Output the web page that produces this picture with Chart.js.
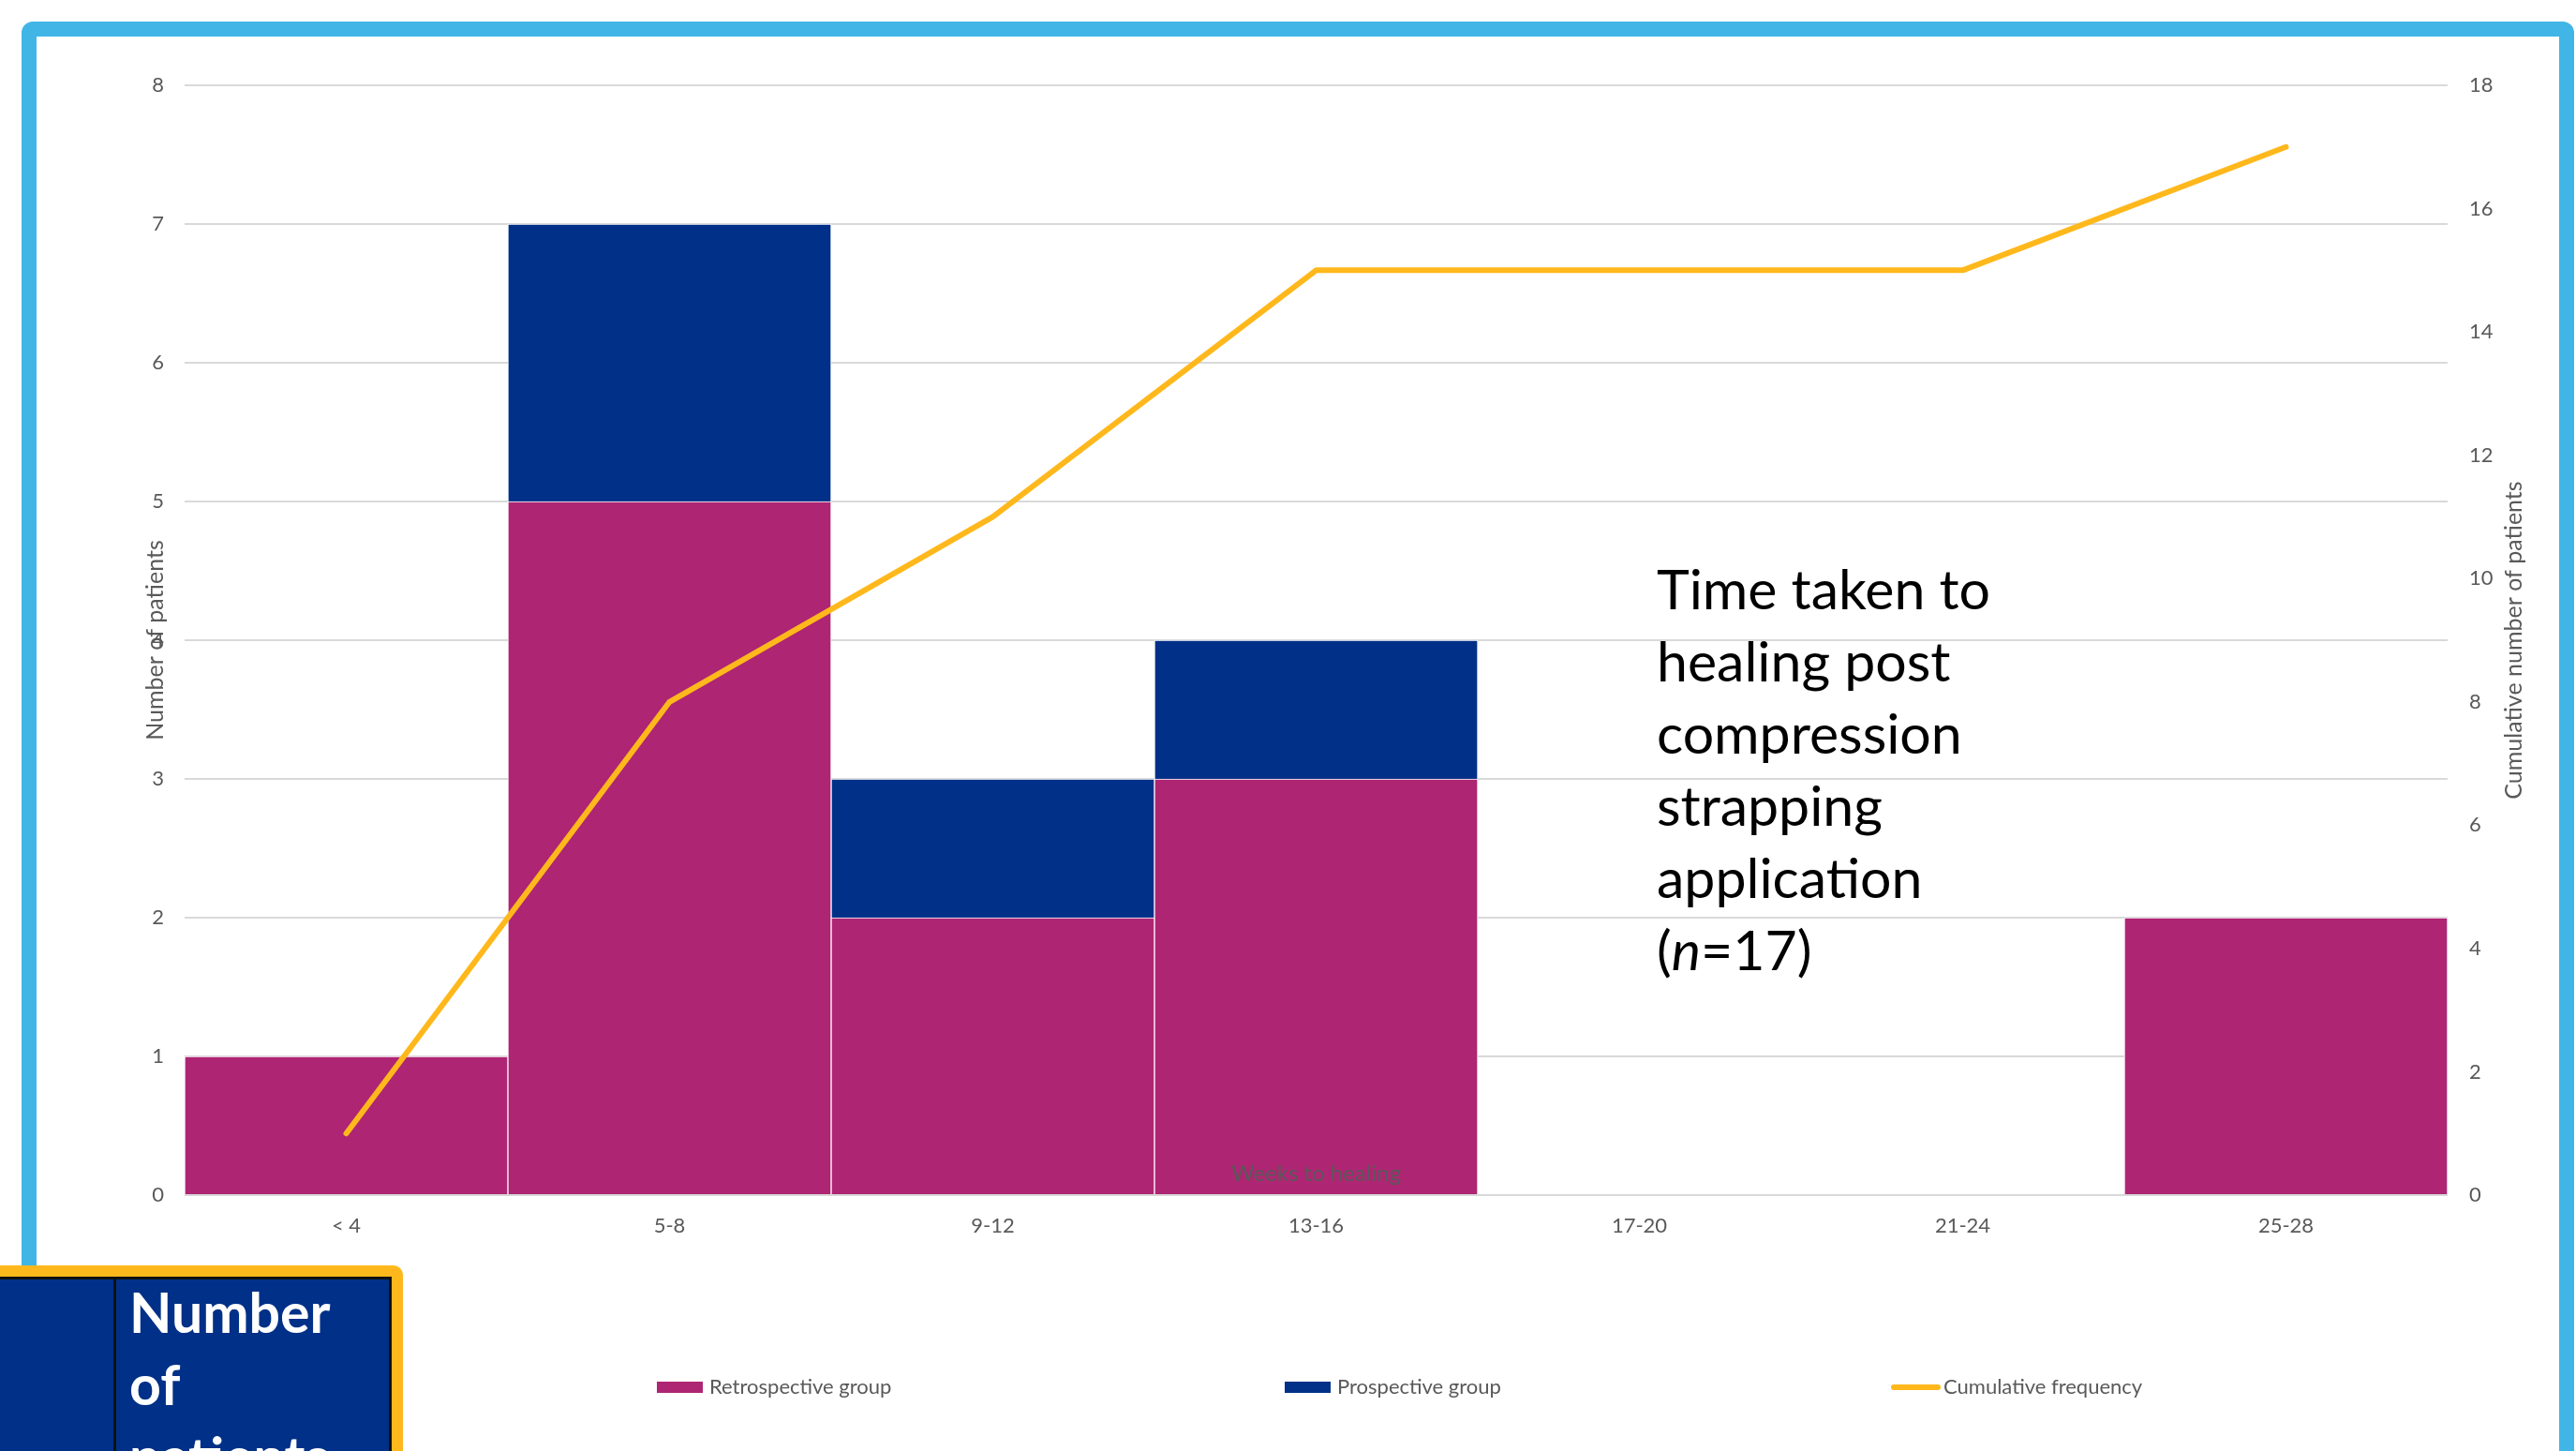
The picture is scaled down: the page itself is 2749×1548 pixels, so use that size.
<!DOCTYPE html>
<html>
<head>
<meta charset="utf-8">
<script src="https://cdn.jsdelivr.net/npm/chart.js@4"></script>
<style>
  html, body { margin: 0; padding: 0; background: #ffffff; overflow: hidden; }
  body { width: 2749px; height: 1548px; position: relative; font-family: Lato, "Open Sans", sans-serif; }
  #frame { position: absolute; left: 23px; top: 23px; width: 2724px; height: 1600px; box-sizing: border-box;
           border: 16px solid #41B6E6; border-radius: 12px; }
  #c { position: absolute; left: 0; top: 0; }
  #note { position: absolute; left: 1768px; top: 589px; font-family: Lato, sans-serif; font-size: 59px;
          line-height: 77px; color: #000; white-space: nowrap; }
  #box { position: absolute; left: -20px; top: 1350px; width: 450px; height: 260px; box-sizing: border-box;
         border: 12px solid #FFB81C; border-radius: 10px; background: #003087; overflow: hidden; }
  #boxinner { position: absolute; left: 0; top: 0; right: 0; bottom: 0; border-top: 3px solid #111; border-right: 3px solid #111; }
  #boxline { position: absolute; left: 129px; top: 0; width: 3px; height: 300px; background: #111; }
  #boxtext { position: absolute; left: 146px; top: -1px; font-family: Lato, sans-serif; font-weight: bold; font-size: 59px;
             line-height: 77px; color: #fff; white-space: nowrap; }
</style>
</head>
<body>
<div id="frame"></div>
<canvas id="c" width="2749" height="1548"></canvas>
<div id="note">Time taken to<br>healing post<br>compression<br>strapping<br>application<br>(<i>n</i>=17)</div>
<div id="box"><div id="boxinner"></div><div id="boxline"></div><div id="boxtext">Number<br>of<br>patients</div></div>
<script>
const categories = ['< 4', '5-8', '9-12', '13-16', '17-20', '21-24', '25-28'];
const retrospective = [1, 5, 2, 3, 0, 0, 2];
const prospective = [0, 2, 1, 1, 0, 0, 0];
const cumulative = [1, 8, 11, 15, 15, 15, 17];
const seriesNames = ['Retrospective group', 'Prospective group', 'Cumulative frequency'];
const xTitle = 'Weeks to healing';
const yTitle = 'Number of patients';
const y1Title = 'Cumulative number of patients';

const PINK = '#AE2573', DARK = '#003087', GOLD = '#FFB81C', GREY = '#595959';
const FONT = 'Lato, "Open Sans", sans-serif';

const extras = {
  id: 'extras',
  afterDraw(chart) {
    const ctx = chart.ctx;
    const area = chart.chartArea;
    ctx.save();
    // right axis title, reading bottom to top
    ctx.font = '25px ' + FONT;
    ctx.fillStyle = GREY;
    ctx.textAlign = 'center';
    ctx.textBaseline = 'middle';
    ctx.translate(2683, (area.top + area.bottom) / 2);
    ctx.rotate(-Math.PI / 2);
    ctx.fillText(y1Title, 0, 0);
    ctx.restore();

    // legend
    ctx.save();
    ctx.font = '22px ' + FONT;
    ctx.textBaseline = 'middle';
    ctx.textAlign = 'left';
    const ly = 1480;
    const items = [
      {x: 701, type: 'box', color: PINK, label: seriesNames[0]},
      {x: 1371, type: 'box', color: DARK, label: seriesNames[1]},
      {x: 2018, type: 'line', color: GOLD, label: seriesNames[2]}
    ];
    items.forEach(it => {
      if (it.type === 'box') {
        ctx.fillStyle = it.color;
        ctx.fillRect(it.x, ly - 6, 49, 12);
      } else {
        ctx.strokeStyle = it.color;
        ctx.lineWidth = 6;
        ctx.lineCap = 'round';
        ctx.beginPath();
        ctx.moveTo(it.x + 3, ly);
        ctx.lineTo(it.x + 50, ly);
        ctx.stroke();
      }
      ctx.fillStyle = GREY;
      ctx.fillText(it.label, it.x + 56, ly);
    });
    ctx.restore();
  }
};

new Chart(document.getElementById('c'), {
  data: {
    labels: categories,
    datasets: [
      { type: 'line', label: seriesNames[2], data: cumulative, yAxisID: 'y1', order: 0,
        borderColor: GOLD, borderWidth: 6, pointRadius: 0, tension: 0,
        borderCapStyle: 'round', borderJoinStyle: 'round', fill: false },
      { type: 'bar', label: seriesNames[0], data: retrospective, yAxisID: 'y', order: 1,
        backgroundColor: PINK, borderColor: '#ffffff', borderWidth: 1, borderSkipped: 'start',
        barPercentage: 1, categoryPercentage: 1 },
      { type: 'bar', label: seriesNames[1], data: prospective, yAxisID: 'y', order: 2,
        backgroundColor: DARK, borderColor: '#ffffff', borderWidth: 1, borderSkipped: 'start',
        barPercentage: 1, categoryPercentage: 1 }
    ]
  },
  options: {
    responsive: false,
    maintainAspectRatio: false,
    devicePixelRatio: 1,
    animation: false,
    layout: { padding: { top: 91, left: 0, right: 0, bottom: 0 } },
    plugins: { legend: { display: false }, tooltip: { enabled: false } },
    scales: {
      x: {
        stacked: true,
        grid: { display: false, z: 1 },
        border: { display: false },
        ticks: { z: 1, color: GREY, font: { family: FONT, size: 22 }, padding: 12, maxRotation: 0 },
        title: { display: true, text: xTitle, color: GREY, font: { family: FONT, size: 24 },
                 padding: { top: 0, bottom: 281 } },
        afterFit(s) { s.height = 273; }
      },
      y: {
        stacked: true,
        position: 'left',
        min: 0, max: 8,
        ticks: { stepSize: 1, color: GREY, font: { family: FONT, size: 22 }, padding: 22 },
        grid: { color: '#D9D9D9', lineWidth: 2, drawTicks: false },
        border: { display: false },
        title: { display: true, text: yTitle, color: GREY, font: { family: FONT, size: 25 },
                 padding: { top: 151, bottom: 0 } },
        afterFit(s) { s.width = 197; }
      },
      y1: {
        position: 'right',
        min: 0, max: 18,
        ticks: { stepSize: 2, color: GREY, font: { family: FONT, size: 22 }, padding: 23 },
        grid: { display: false, drawTicks: false },
        border: { display: false },
        afterFit(s) { s.width = 137; }
      }
    }
  },
  plugins: [extras]
});
</script>
</body>
</html>
